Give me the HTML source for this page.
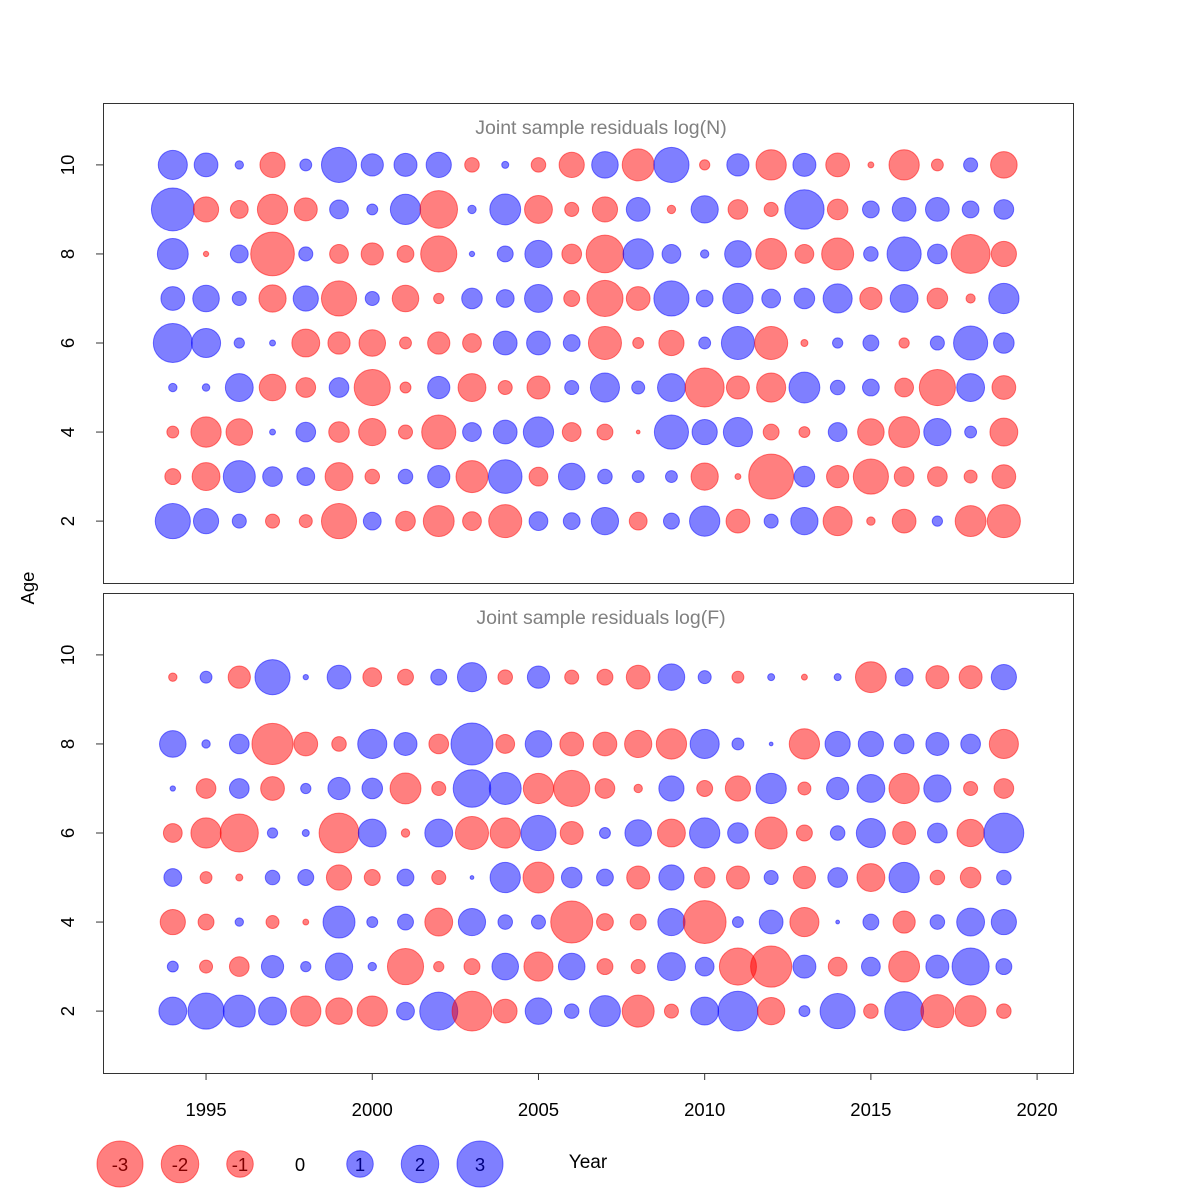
<!DOCTYPE html>
<html><head><meta charset="utf-8"><style>
body{margin:0;background:#fff}
svg{display:block;font-family:"Liberation Sans",sans-serif}
</style></head><body>
<svg id="chart" width="1200" height="1200" viewBox="0 0 1200 1200"></svg>
<script>
const years=[1994,1995,1996,1997,1998,1999,2000,2001,2002,2003,2004,2005,2006,2007,2008,2009,2010,2011,2012,2013,2014,2015,2016,2017,2018,2019];
const xTicks=[1995,2000,2005,2010,2015,2020];
const yTicks=[2,4,6,8,10];
const agesN=[10,9,8,7,6,5,4,3,2];
const agesF=[9.5,8,7,6,5,4,3,2];
const legendValues=[-3,-2,-1,0,1,2,3];
// log(N) residuals, rows by agesN
const resN=[
[1.2,0.8,0.1,-0.9,0.2,1.75,0.7,0.75,0.9,-0.3,0.07,-0.3,-0.9,1.0,-1.45,1.75,-0.15,0.7,-1.3,0.75,-0.8,-0.05,-1.3,-0.2,0.28,-1.0],
[2.6,-0.9,-0.45,-1.3,-0.75,0.5,0.17,1.3,-2.0,0.1,1.35,-1.1,-0.28,-0.9,0.8,-0.1,1.05,-0.55,-0.28,2.2,-0.6,0.4,0.8,0.8,0.4,0.55],
[1.35,-0.04,0.45,-2.7,0.28,-0.5,-0.7,-0.4,-1.85,0.04,0.36,1.05,-0.55,-2.0,1.3,0.5,0.1,1.0,-1.35,-0.5,-1.45,0.3,1.65,0.55,-2.15,-0.9],
[0.8,1.0,0.28,-1.05,0.9,-1.75,0.28,-1.0,-0.15,0.6,0.45,1.1,-0.36,-1.85,-0.8,1.75,0.4,1.3,0.5,0.6,1.2,-0.7,1.1,-0.6,-0.12,1.3],
[2.15,1.2,0.15,0.05,-1.1,-0.7,-1.0,-0.2,-0.7,-0.5,0.8,0.8,0.4,-1.55,-0.17,-0.9,0.2,1.55,-1.55,-0.07,0.15,0.36,-0.15,0.28,1.65,0.6],
[0.1,0.08,1.1,-1.0,-0.55,0.55,-1.85,-0.17,0.7,-1.1,-0.28,-0.75,0.28,1.2,0.24,1.1,-2.15,-0.75,-1.2,1.35,0.3,0.4,-0.5,-1.85,1.1,-0.8],
[-0.2,-1.3,-1.0,0.05,0.55,-0.6,-1.05,-0.28,-1.65,0.5,0.8,1.3,-0.5,-0.36,-0.02,1.65,0.9,1.2,-0.36,-0.17,0.5,-1.0,-1.35,1.05,0.2,-1.1],
[-0.36,-1.1,1.45,0.55,0.45,-1.1,-0.3,0.3,0.7,-1.45,1.6,-0.5,1.0,0.3,0.2,0.2,-1.05,-0.05,-2.85,0.6,-0.7,-1.75,-0.55,-0.55,-0.24,-0.8],
[1.75,0.9,0.28,-0.28,-0.24,-1.75,0.45,-0.55,-1.35,-0.5,-1.55,0.5,0.4,1.05,-0.45,0.36,1.3,-0.8,0.28,1.05,-1.2,-0.1,-0.8,0.15,-1.35,-1.55]
];
// log(F) residuals, rows by agesF
const resF=[
[-0.1,0.2,-0.7,1.75,0.04,0.8,-0.5,-0.36,0.36,1.2,-0.3,0.7,-0.28,-0.36,-0.8,1.0,0.24,-0.2,0.07,-0.05,0.07,-1.35,0.45,-0.75,-0.75,0.9],
[1.0,0.1,0.55,-2.4,-0.8,-0.3,1.2,0.75,-0.55,2.5,-0.5,1.0,-0.8,-0.8,-1.05,-1.3,1.2,0.2,0.02,-1.3,0.9,0.9,0.55,0.75,0.55,-1.2],
[0.04,-0.55,0.55,-0.8,0.15,0.7,0.6,-1.35,-0.28,2.0,1.45,-1.3,-1.85,-0.55,-0.1,0.9,-0.36,-0.9,1.3,-0.24,0.7,1.1,-1.3,1.05,-0.28,-0.55],
[-0.5,-1.3,-2.05,0.15,0.07,-2.25,1.1,-0.1,1.1,-1.55,-1.3,1.75,-0.75,0.17,1.0,-1.1,1.3,0.6,-1.45,-0.36,0.3,1.2,-0.75,0.55,-1.05,2.25],
[0.45,-0.2,-0.07,0.3,0.36,-0.9,-0.36,0.4,-0.28,0.02,1.3,-1.35,0.6,0.4,-0.75,0.9,-0.6,-0.75,0.28,-0.7,0.55,-1.1,1.3,-0.3,-0.6,0.3],
[-0.9,-0.36,0.1,-0.24,-0.05,1.45,0.17,0.36,-1.1,1.05,0.3,0.28,-2.5,-0.4,-0.36,1.05,-2.6,0.17,0.8,-1.2,0.02,0.36,-0.7,0.3,1.1,0.9],
[0.17,-0.24,-0.55,0.7,0.15,1.05,0.1,-1.85,-0.15,-0.36,1.0,-1.2,1.0,-0.36,-0.28,1.1,0.5,-1.95,-2.4,0.75,-0.5,0.5,-1.35,0.75,1.95,0.36],
[1.1,1.85,1.45,1.1,-1.3,-1.0,-1.3,0.45,2.05,-2.25,-0.8,1.0,0.3,1.35,-1.45,-0.28,1.1,2.25,-1.05,0.17,1.75,-0.3,2.15,-1.55,-1.35,-0.3]
];

const NS="http://www.w3.org/2000/svg";
const svg=document.getElementById('chart');
function mk(tag,attrs,parent){const e=document.createElementNS(NS,tag);for(const k in attrs)e.setAttribute(k,attrs[k]);(parent||svg).appendChild(e);return e;}
const X0=103,X1=1073,XMIN=1991.90,XMAX=2021.08;
const xs=v=>X0+(v-XMIN)/(XMAX-XMIN)*(X1-X0);
const YMIN=0.61,YMAX=11.39;
const panels=[{top:103,bot:583,title:"Joint sample residuals log(N)",ages:agesN,data:resN,name:"panel-log-n"},
              {top:593,bot:1073,title:"Joint sample residuals log(F)",ages:agesF,data:resF,name:"panel-log-f"}];
const rad=v=>23*Math.sqrt(Math.abs(v)/3);
const fillC=v=>v<0?"rgba(255,0,0,0.5)":"rgba(0,0,255,0.5)";

panels.forEach((p,pi)=>{
  const ys=a=>p.bot-(a-YMIN)/(YMAX-YMIN)*(p.bot-p.top);
  const g=mk('g',{});
  
  
  const fr=mk('rect',{x:X0+0.5,y:p.top+0.5,width:X1-X0,height:p.bot-p.top,fill:'none',stroke:'#333','stroke-width':1},g);
  
  
  const t=mk('text',{x:601,y:p.top+31,'text-anchor':'middle','font-size':19.5,fill:'#808080'},g);
  t.textContent=p.title;
  
  
  yTicks.forEach(v=>{
    const y=ys(v);
    const tk=mk('line',{x1:X0,x2:X0-7,y1:y,y2:y,stroke:'#333'},g);
    
    
    const tl=mk('text',{x:74,y:y,'text-anchor':'middle','font-size':18.5,fill:'#000',transform:`rotate(-90 74 ${y})`},g);
    tl.textContent=v;
    
    
  });
  p.data.forEach((row,ri)=>{
    row.forEach((v,ci)=>{
      const c=mk('circle',{cx:xs(years[ci]),cy:ys(p.ages[ri]),r:rad(v),fill:fillC(v),stroke:fillC(v),'stroke-width':1},g);
      
      
    });
  });
});
xTicks.forEach(v=>{
  const x=xs(v);
  const tk=mk('line',{x1:x,x2:x,y1:1073,y2:1080,stroke:'#333'});
  
  
  const tl=mk('text',{x:x,y:1116,'text-anchor':'middle','font-size':18.5,fill:'#000'});
  tl.textContent=v;
  
  
});
const at=mk('text',{x:34,y:588,'text-anchor':'middle','font-size':18.5,fill:'#000',transform:'rotate(-90 34 588)'});
at.textContent="Age";


legendValues.forEach((v,i)=>{
  const x=120+i*60;
  if(v!==0){
    const c=mk('circle',{cx:x,cy:1164,r:rad(v),fill:fillC(v),stroke:fillC(v)});
    
    
  }
  const t=mk('text',{x:x,y:1171,'text-anchor':'middle','font-size':18.5,fill:v<0?'#800000':(v>0?'#000080':'#000')});
  t.textContent=v;
  
  
});
const xt=mk('text',{x:588,y:1168,'text-anchor':'middle','font-size':19,fill:'#000'});
xt.textContent="Year";


</script>
</body></html>
